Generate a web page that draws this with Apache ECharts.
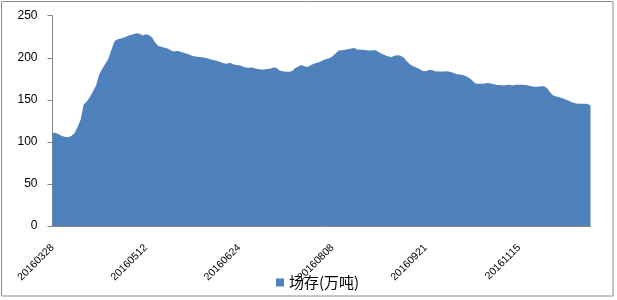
<!DOCTYPE html>
<html>
<head>
<meta charset="utf-8">
<script src="https://cdn.jsdelivr.net/npm/echarts@6/dist/echarts.min.js"></script>
<style>
html,body{margin:0;padding:0;background:#fff;}
#chart{width:617px;height:300px;}
</style>
</head>
<body>
<div id="chart"></div>
<script>
// Tick labels shown on the category axis (every 30th point)
const tickLabels = ['20160328', '20160512', '20160624', '20160808', '20160921', '20161115'];
const labelStep = 30;
const seriesName = '场存(万吨)';
const yTicks = [0, 50, 100, 150, 200, 250];

// 场存 values
const stockValues = [
  111, 110.5, 109, 107, 106, 105.5, 107, 110, 117, 126,
  144, 148, 153, 160, 167, 180, 187, 193, 199, 210,
  220, 222, 223, 224, 225.5, 227, 228, 229, 228.5, 226.5,
  228, 227, 224, 218, 214, 213, 212, 211, 209, 207.5,
  208, 207.5, 206, 205, 204, 202, 201.5, 201, 200.5, 200,
  199, 198, 197, 196, 195, 193.5, 193, 194, 192.5, 191.5,
  191, 190, 188.5, 188, 188.5, 187.5, 186.5, 186, 186, 186.5,
  187, 188.5, 188, 185, 184, 183.5, 183.5, 184, 187.5, 189.5,
  191.5, 190, 189, 191, 193, 194, 195, 197, 198.5, 199.5,
  201.5, 205, 208.5, 209, 209.5, 210, 211, 211.5, 209.8, 209.5,
  209.5, 209, 208.7, 209, 209, 206.5, 204.5, 203, 201.5, 201,
  202.5, 203, 202.5, 200, 195.5, 192, 190, 188.5, 186.5, 184.5,
  184, 185.5, 185.5, 184, 183.7, 183.7, 183.7, 184, 183, 182,
  180.5, 180, 179.5, 178, 176, 173, 169.5, 169, 169, 169.5,
  170, 169.5, 168.5, 167.5, 167.5, 167, 167.5, 168, 167, 168,
  168, 168, 167.5, 167, 166, 165.5, 165.5, 166, 166, 164,
  159, 155, 154, 153, 152, 150.5, 149, 147, 146, 145.3,
  145.3, 145.3, 145, 143.5
];

// Category axis entries: dated ticks every labelStep points, unique ids elsewhere
const categories = stockValues.map((v, i) =>
  (i % labelStep === 0 && tickLabels[i / labelStep]) ? tickLabels[i / labelStep] : 'p' + i
);

const chart = echarts.init(document.getElementById('chart'), null, {renderer: 'canvas'});
chart.setOption({
  animation: false,
  backgroundColor: '#ffffff',
  graphic: [{
    type: 'rect',
    shape: {x: 1.5, y: 1.5, width: 611.5, height: 294.5},
    style: {fill: 'none', stroke: '#8a8a8a', lineWidth: 1},
    z: 0
  }],
  grid: {left: 52.5, right: 26.5, top: 15.7, bottom: 74},
  legend: {
    data: [seriesName],
    icon: 'rect',
    itemWidth: 8,
    itemHeight: 8,
    left: 276,
    top: 275,
    padding: 0,
    textStyle: {fontSize: 15, color: '#000', fontFamily: '"Noto Sans CJK SC", sans-serif'}
  },
  xAxis: {
    type: 'category',
    data: categories,
    boundaryGap: false,
    axisLine: {show: true, lineStyle: {color: '#868686', width: 1}},
    axisTick: {show: false},
    splitLine: {show: false},
    axisLabel: {
      interval: labelStep - 1,
      rotate: 45,
      margin: 20,
      fontSize: 10.5,
      color: '#000',
      fontFamily: '"Liberation Sans", Arial, sans-serif'
    }
  },
  yAxis: {
    type: 'value',
    min: yTicks[0],
    max: yTicks[yTicks.length - 1],
    interval: yTicks[1] - yTicks[0],
    axisLine: {show: true, lineStyle: {color: '#868686', width: 1}},
    axisTick: {show: true, length: 5, lineStyle: {color: '#868686'}},
    splitLine: {show: false},
    axisLabel: {
      margin: 15,
      fontSize: 12,
      color: '#000',
      fontFamily: '"Liberation Sans", Arial, sans-serif'
    }
  },
  series: [{
    name: seriesName,
    type: 'line',
    data: stockValues,
    showSymbol: false,
    symbol: 'none',
    smooth: false,
    itemStyle: {color: '#4F81BD'},
    lineStyle: {width: 0, color: '#4F81BD'},
    areaStyle: {color: '#4F81BD', opacity: 1}
  }]
});
</script>
</body>
</html>
